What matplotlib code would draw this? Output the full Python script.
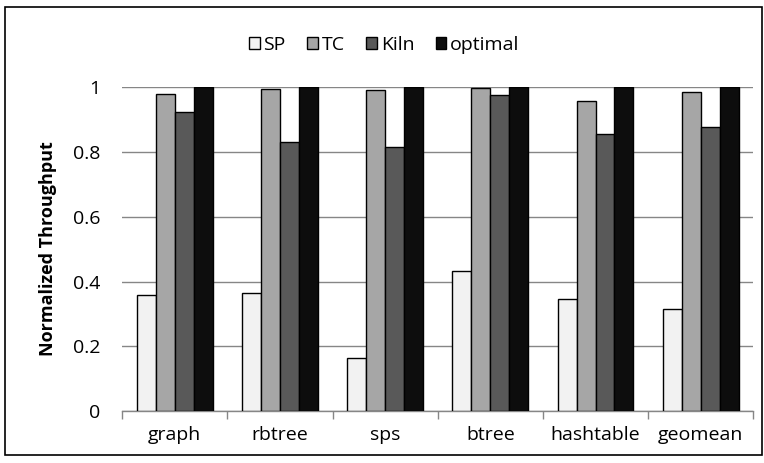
import matplotlib

matplotlib.use("Agg")
import matplotlib.pyplot as plt  # noqa: E402
import numpy as np  # noqa: E402
from matplotlib.patches import Rectangle  # noqa: E402

plt.rcParams["font.family"] = ["Open Sans", "DejaVu Sans"]

categories = ["graph", "rbtree", "sps", "btree", "hashtable", "geomean"]
series_names = ["SP", "TC", "Kiln", "optimal"]
sp = [0.357, 0.363, 0.163, 0.431, 0.346, 0.316]
tc = [0.979, 0.995, 0.992, 0.997, 0.957, 0.984]
kiln = [0.922, 0.829, 0.814, 0.976, 0.855, 0.877]
optimal = [1.0, 1.0, 1.0, 1.0, 1.0, 1.0]
yticks = [0, 0.2, 0.4, 0.6, 0.8, 1.0]
ytick_labels = ["0", "0.2", "0.4", "0.6", "0.8", "1"]

colors = ["#f2f2f2", "#a6a6a6", "#595959", "#0d0d0d"]
bar_w = 0.18

fig = plt.figure(figsize=(7.64, 4.63), dpi=100)
fig.patches.append(Rectangle((0.007, 0.017), 0.99, 0.967, transform=fig.transFigure,
                             fill=False, edgecolor="black", linewidth=1.2))
ax = fig.add_axes([0.16, 0.112, 0.826, 0.700])

x = np.arange(len(categories))
for i, (vals, col, name) in enumerate(zip([sp, tc, kiln, optimal], colors, series_names)):
    offs = (i - 1.5) * bar_w
    ax.bar(x + offs, vals, width=bar_w, color=col, edgecolor="black",
           linewidth=1.0, label=name, zorder=3)

ax.set_xlim(-0.5, len(categories) - 0.5)
ax.set_ylim(0, 1)
ax.set_yticks(yticks)
ax.set_yticklabels(ytick_labels, fontsize=14)
ax.yaxis.grid(True, color="#868686", linewidth=1.0, zorder=0)
ax.set_axisbelow(True)
ax.tick_params(axis="y", length=0, pad=16)

ax.set_xticks(x)
ax.set_xticklabels(categories, fontsize=14)
ax.set_xticks(np.arange(-0.5, len(categories)), minor=True)
ax.tick_params(axis="x", which="major", length=0, pad=11)
ax.tick_params(axis="x", which="minor", length=6, color="#868686", width=1.0)

for side in ["left", "right", "top"]:
    ax.spines[side].set_visible(False)
ax.spines["bottom"].set_color("#868686")
ax.spines["bottom"].set_linewidth(1.0)

ax.set_ylabel("Normalized Throughput", fontsize=13, fontweight="bold", labelpad=11)

fig.legend(loc="center", bbox_to_anchor=(0.503, 0.903), ncol=4, frameon=False,
           fontsize=14, handlelength=0.55, handleheight=0.55, handletextpad=0.2,
           columnspacing=1.1)

fig.savefig("out.png", dpi=100)
